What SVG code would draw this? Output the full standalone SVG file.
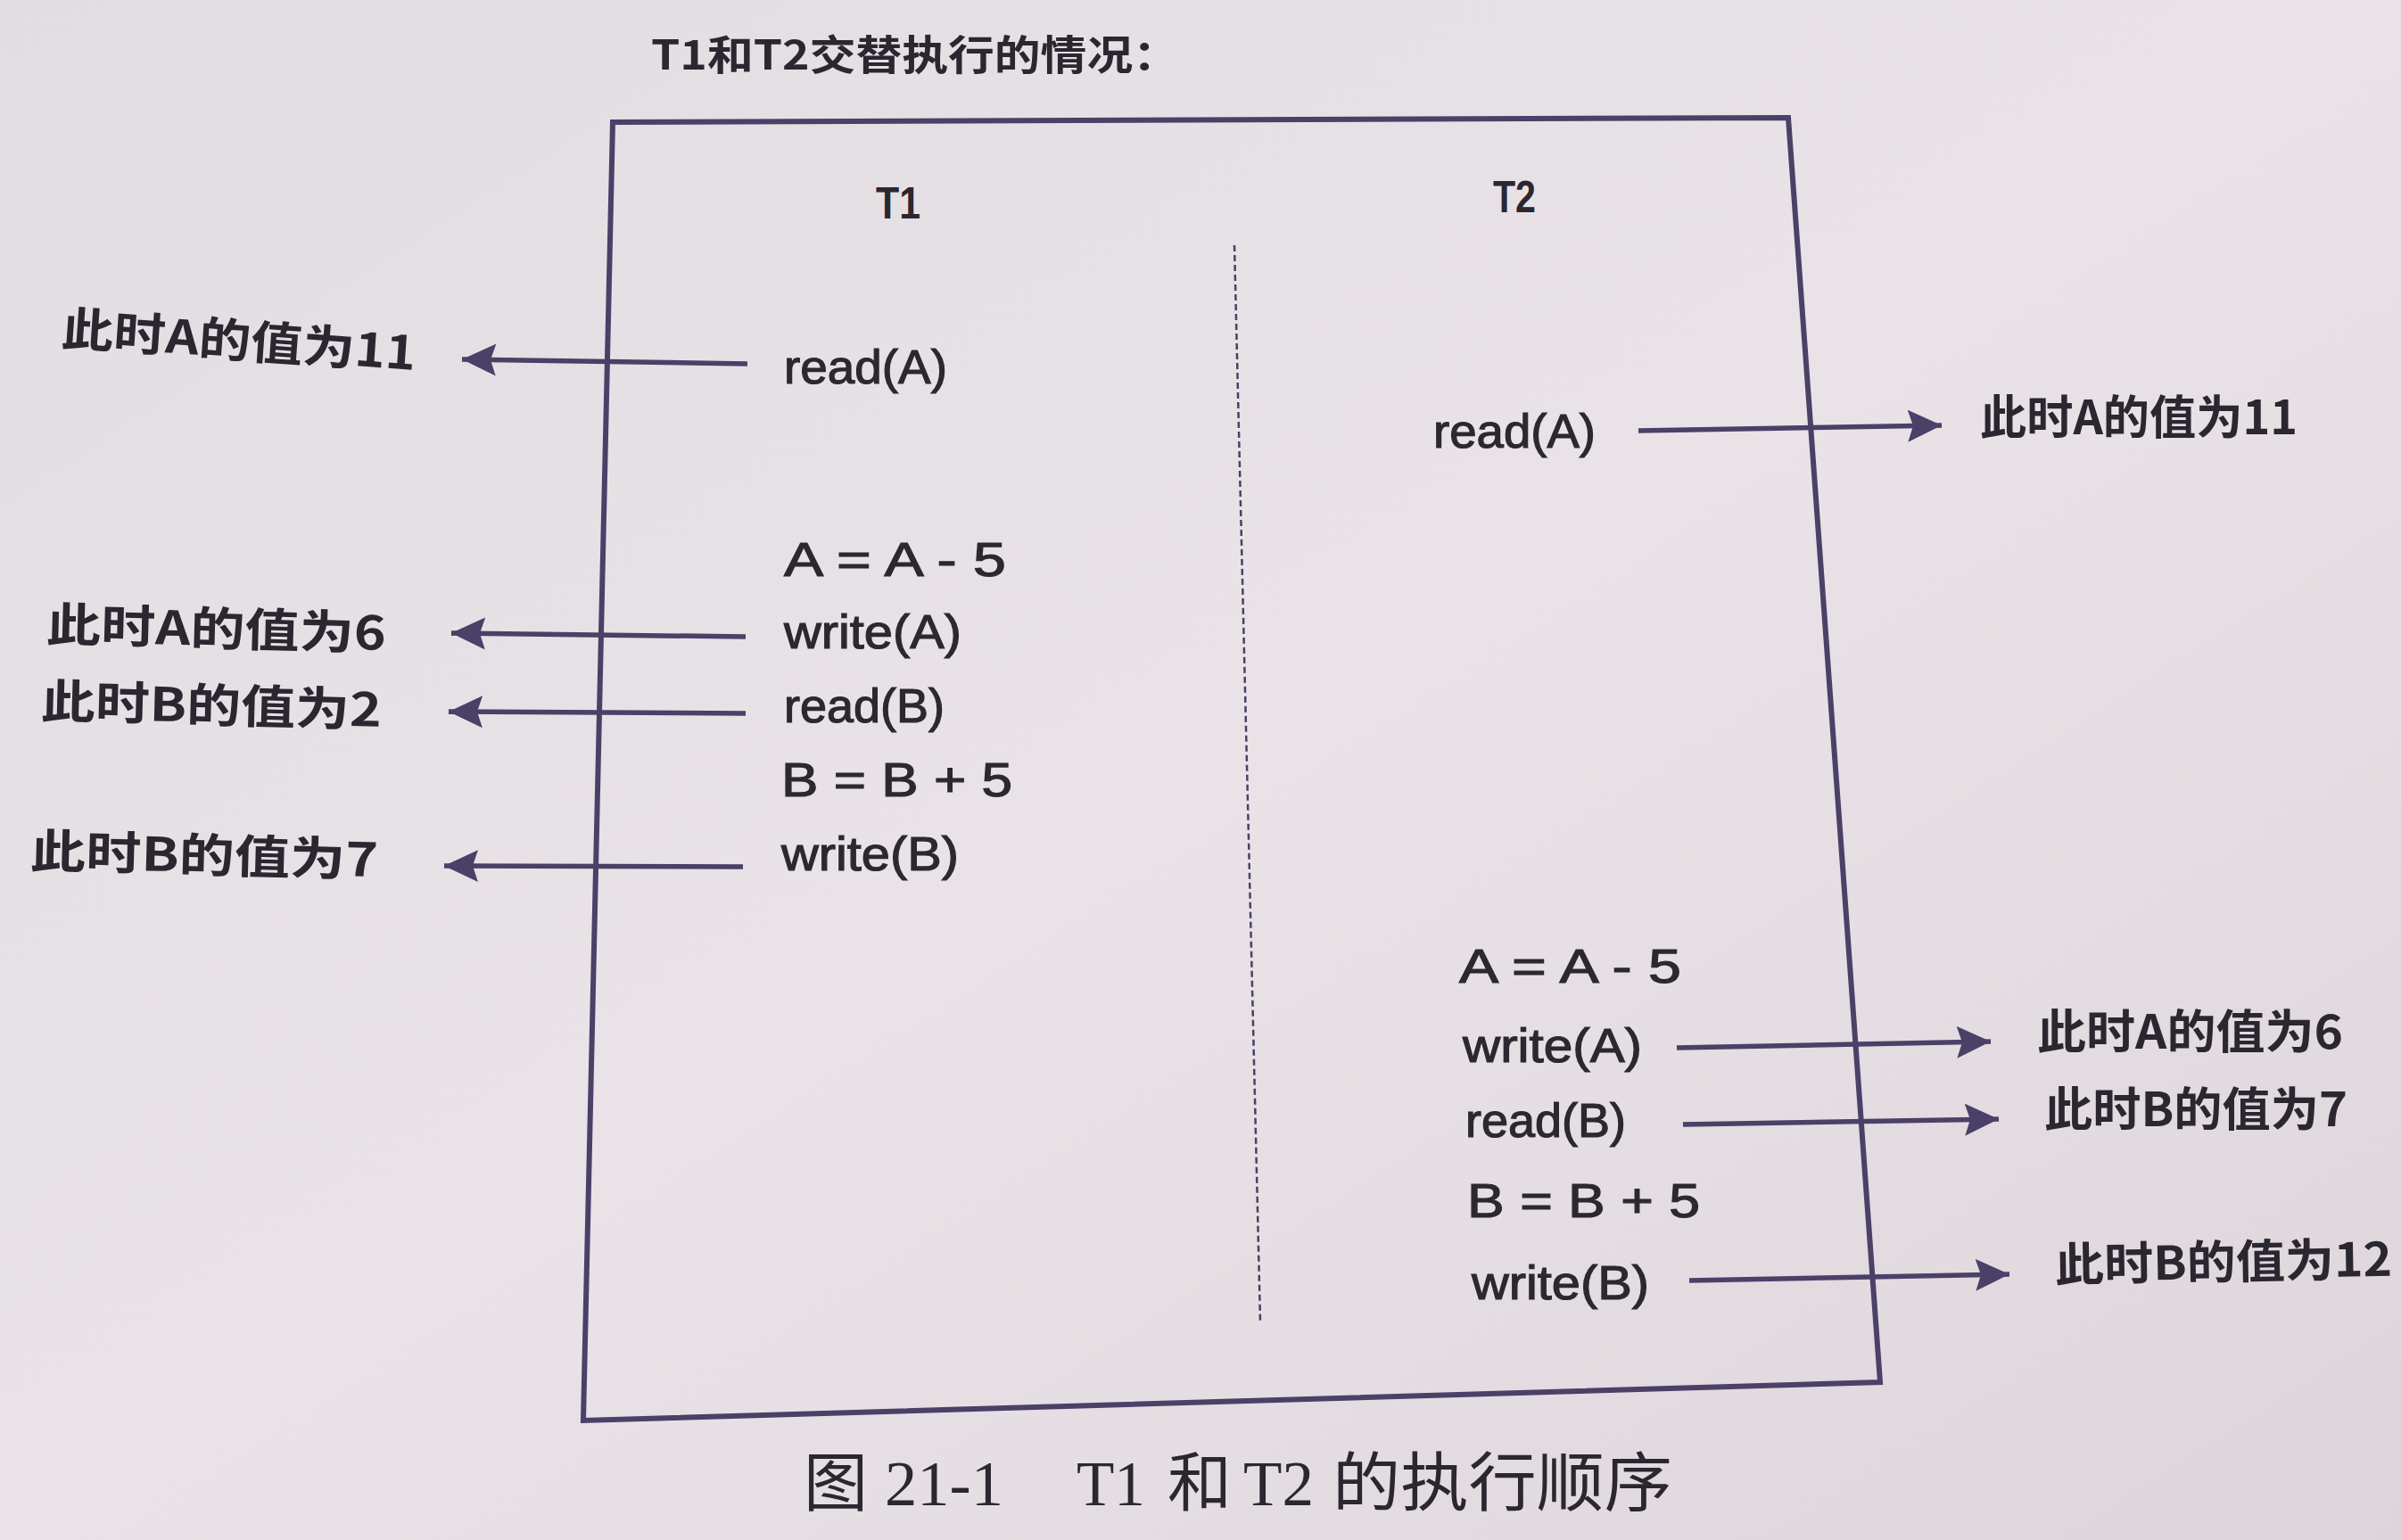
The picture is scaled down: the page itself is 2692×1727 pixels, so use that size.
<svg xmlns="http://www.w3.org/2000/svg" width="2692" height="1727" viewBox="0 0 2692 1727">
  <defs>
    <linearGradient id="bg" x1="0" y1="0" x2="1" y2="1">
      <stop offset="0" stop-color="#e2dde1"/>
      <stop offset="0.5" stop-color="#e9e3e7"/>
      <stop offset="1" stop-color="#ddd5da"/>
    </linearGradient>
    <marker id="arr" markerUnits="userSpaceOnUse" markerWidth="40" markerHeight="40" viewBox="0 0 40 40" refX="38" refY="20" orient="auto">
      <polygon points="0,2 38,20 0,38 6,20" fill="#4a4068"/>
    </marker>
    <style>
      .op { font-family: "Liberation Sans", "DejaVu Sans", sans-serif; font-size: 54px; fill: #2b2830; stroke: #2b2830; stroke-width: 1.2px; }
      .lbl { font-family: "Noto Sans CJK SC", "Liberation Sans", sans-serif; font-size: 52px; font-weight: 700; fill: #2a2730; }
      .hdr { font-family: "Liberation Sans", "Noto Sans CJK SC", sans-serif; font-size: 50px; font-weight: 700; fill: #2a2730; }
      .ttl { font-family: "Noto Sans CJK SC", "Liberation Sans", sans-serif; font-size: 46px; font-weight: 700; fill: #2a2730; }
      .cap { font-family: "Liberation Serif", "Noto Sans CJK SC", serif; font-size: 72px; fill: #2a2730; }
      .conn { stroke: #4a4068; stroke-width: 5.5; fill: none; marker-end: url(#arr); }
    </style>
  </defs>

  <rect x="0" y="0" width="2692" height="1727" fill="url(#bg)"/>

  <g id="title">
    <text class="ttl" x="730" y="78" textLength="592" lengthAdjust="spacingAndGlyphs">T1和T2交替执行的情况：</text>
  </g>

  <g id="frame">
    <polygon points="687,137 2005,132 2108,1550 654,1593" fill="none" stroke="#4a4068" stroke-width="6" stroke-linejoin="miter"/>
    <line x1="1384" y1="275" x2="1413" y2="1482" stroke="#4a4068" stroke-width="2.5" stroke-dasharray="7 4"/>
  </g>

  <g id="t1-header"><text class="hdr" x="982" y="245" textLength="50" lengthAdjust="spacingAndGlyphs">T1</text></g>
  <g id="t2-header"><text class="hdr" x="1674" y="238" textLength="48" lengthAdjust="spacingAndGlyphs">T2</text></g>

  <g id="t1-readA"><text class="op" x="879" y="430" textLength="183" lengthAdjust="spacingAndGlyphs">read(A)</text></g>
  <g id="t1-calcA"><text class="op" x="879" y="646" textLength="249" lengthAdjust="spacingAndGlyphs">A = A - 5</text></g>
  <g id="t1-writeA"><text class="op" x="879" y="727" textLength="199" lengthAdjust="spacingAndGlyphs">write(A)</text></g>
  <g id="t1-readB"><text class="op" x="879" y="810" textLength="180" lengthAdjust="spacingAndGlyphs">read(B)</text></g>
  <g id="t1-calcB"><text class="op" x="876" y="893" textLength="259" lengthAdjust="spacingAndGlyphs">B = B + 5</text></g>
  <g id="t1-writeB"><text class="op" x="876" y="976" textLength="199" lengthAdjust="spacingAndGlyphs">write(B)</text></g>

  <g id="t2-readA"><text class="op" x="1607" y="502" textLength="182" lengthAdjust="spacingAndGlyphs">read(A)</text></g>
  <g id="t2-calcA"><text class="op" x="1636" y="1102" textLength="249" lengthAdjust="spacingAndGlyphs">A = A - 5</text></g>
  <g id="t2-writeA"><text class="op" x="1640" y="1191" textLength="201" lengthAdjust="spacingAndGlyphs">write(A)</text></g>
  <g id="t2-readB"><text class="op" x="1643" y="1275" textLength="180" lengthAdjust="spacingAndGlyphs">read(B)</text></g>
  <g id="t2-calcB"><text class="op" x="1645" y="1365" textLength="261" lengthAdjust="spacingAndGlyphs">B = B + 5</text></g>
  <g id="t2-writeB"><text class="op" x="1650" y="1457" textLength="199" lengthAdjust="spacingAndGlyphs">write(B)</text></g>

  <g id="lbl-left-A11"><text class="lbl" x="69" y="401" textLength="398" lengthAdjust="spacingAndGlyphs" transform="rotate(4 268 381)">此时A的值为11</text></g>
  <g id="lbl-left-A6"><text class="lbl" x="52" y="724" textLength="381" lengthAdjust="spacingAndGlyphs" transform="rotate(1.5 242 704)">此时A的值为6</text></g>
  <g id="lbl-left-B2"><text class="lbl" x="46" y="810" textLength="382" lengthAdjust="spacingAndGlyphs" transform="rotate(1.5 237 790)">此时B的值为2</text></g>
  <g id="lbl-left-B7"><text class="lbl" x="34" y="978" textLength="390" lengthAdjust="spacingAndGlyphs" transform="rotate(1.5 229 958)">此时B的值为7</text></g>

  <g id="lbl-right-A11"><text class="lbl" x="2220" y="487" textLength="356" lengthAdjust="spacingAndGlyphs">此时A的值为11</text></g>
  <g id="lbl-right-A6"><text class="lbl" x="2284" y="1176" textLength="343" lengthAdjust="spacingAndGlyphs">此时A的值为6</text></g>
  <g id="lbl-right-B7"><text class="lbl" x="2292" y="1263" textLength="340" lengthAdjust="spacingAndGlyphs">此时B的值为7</text></g>
  <g id="lbl-right-B12"><text class="lbl" x="2304" y="1434" textLength="378" lengthAdjust="spacingAndGlyphs" transform="rotate(-1 2493 1415)">此时B的值为12</text></g>

  <g id="connectors">
    <line class="conn" x1="838" y1="408" x2="518" y2="403"/>
    <line class="conn" x1="836" y1="714" x2="506" y2="710"/>
    <line class="conn" x1="836" y1="800" x2="503" y2="798"/>
    <line class="conn" x1="833" y1="972" x2="498" y2="971"/>
    <line class="conn" x1="1837" y1="483" x2="2177" y2="477"/>
    <line class="conn" x1="1880" y1="1175" x2="2232" y2="1168"/>
    <line class="conn" x1="1887" y1="1261" x2="2241" y2="1255"/>
    <line class="conn" x1="1894" y1="1436" x2="2253" y2="1429"/>
  </g>

  <g id="caption">
    <text class="cap" y="1688"><tspan x="901">图</tspan><tspan x="992" textLength="133" lengthAdjust="spacingAndGlyphs">21-1</tspan><tspan x="1207" textLength="77" lengthAdjust="spacingAndGlyphs">T1</tspan><tspan x="1309">和</tspan><tspan x="1394" textLength="79" lengthAdjust="spacingAndGlyphs">T2</tspan><tspan x="1494" textLength="381" lengthAdjust="spacingAndGlyphs">的执行顺序</tspan></text>
  </g>
</svg>
